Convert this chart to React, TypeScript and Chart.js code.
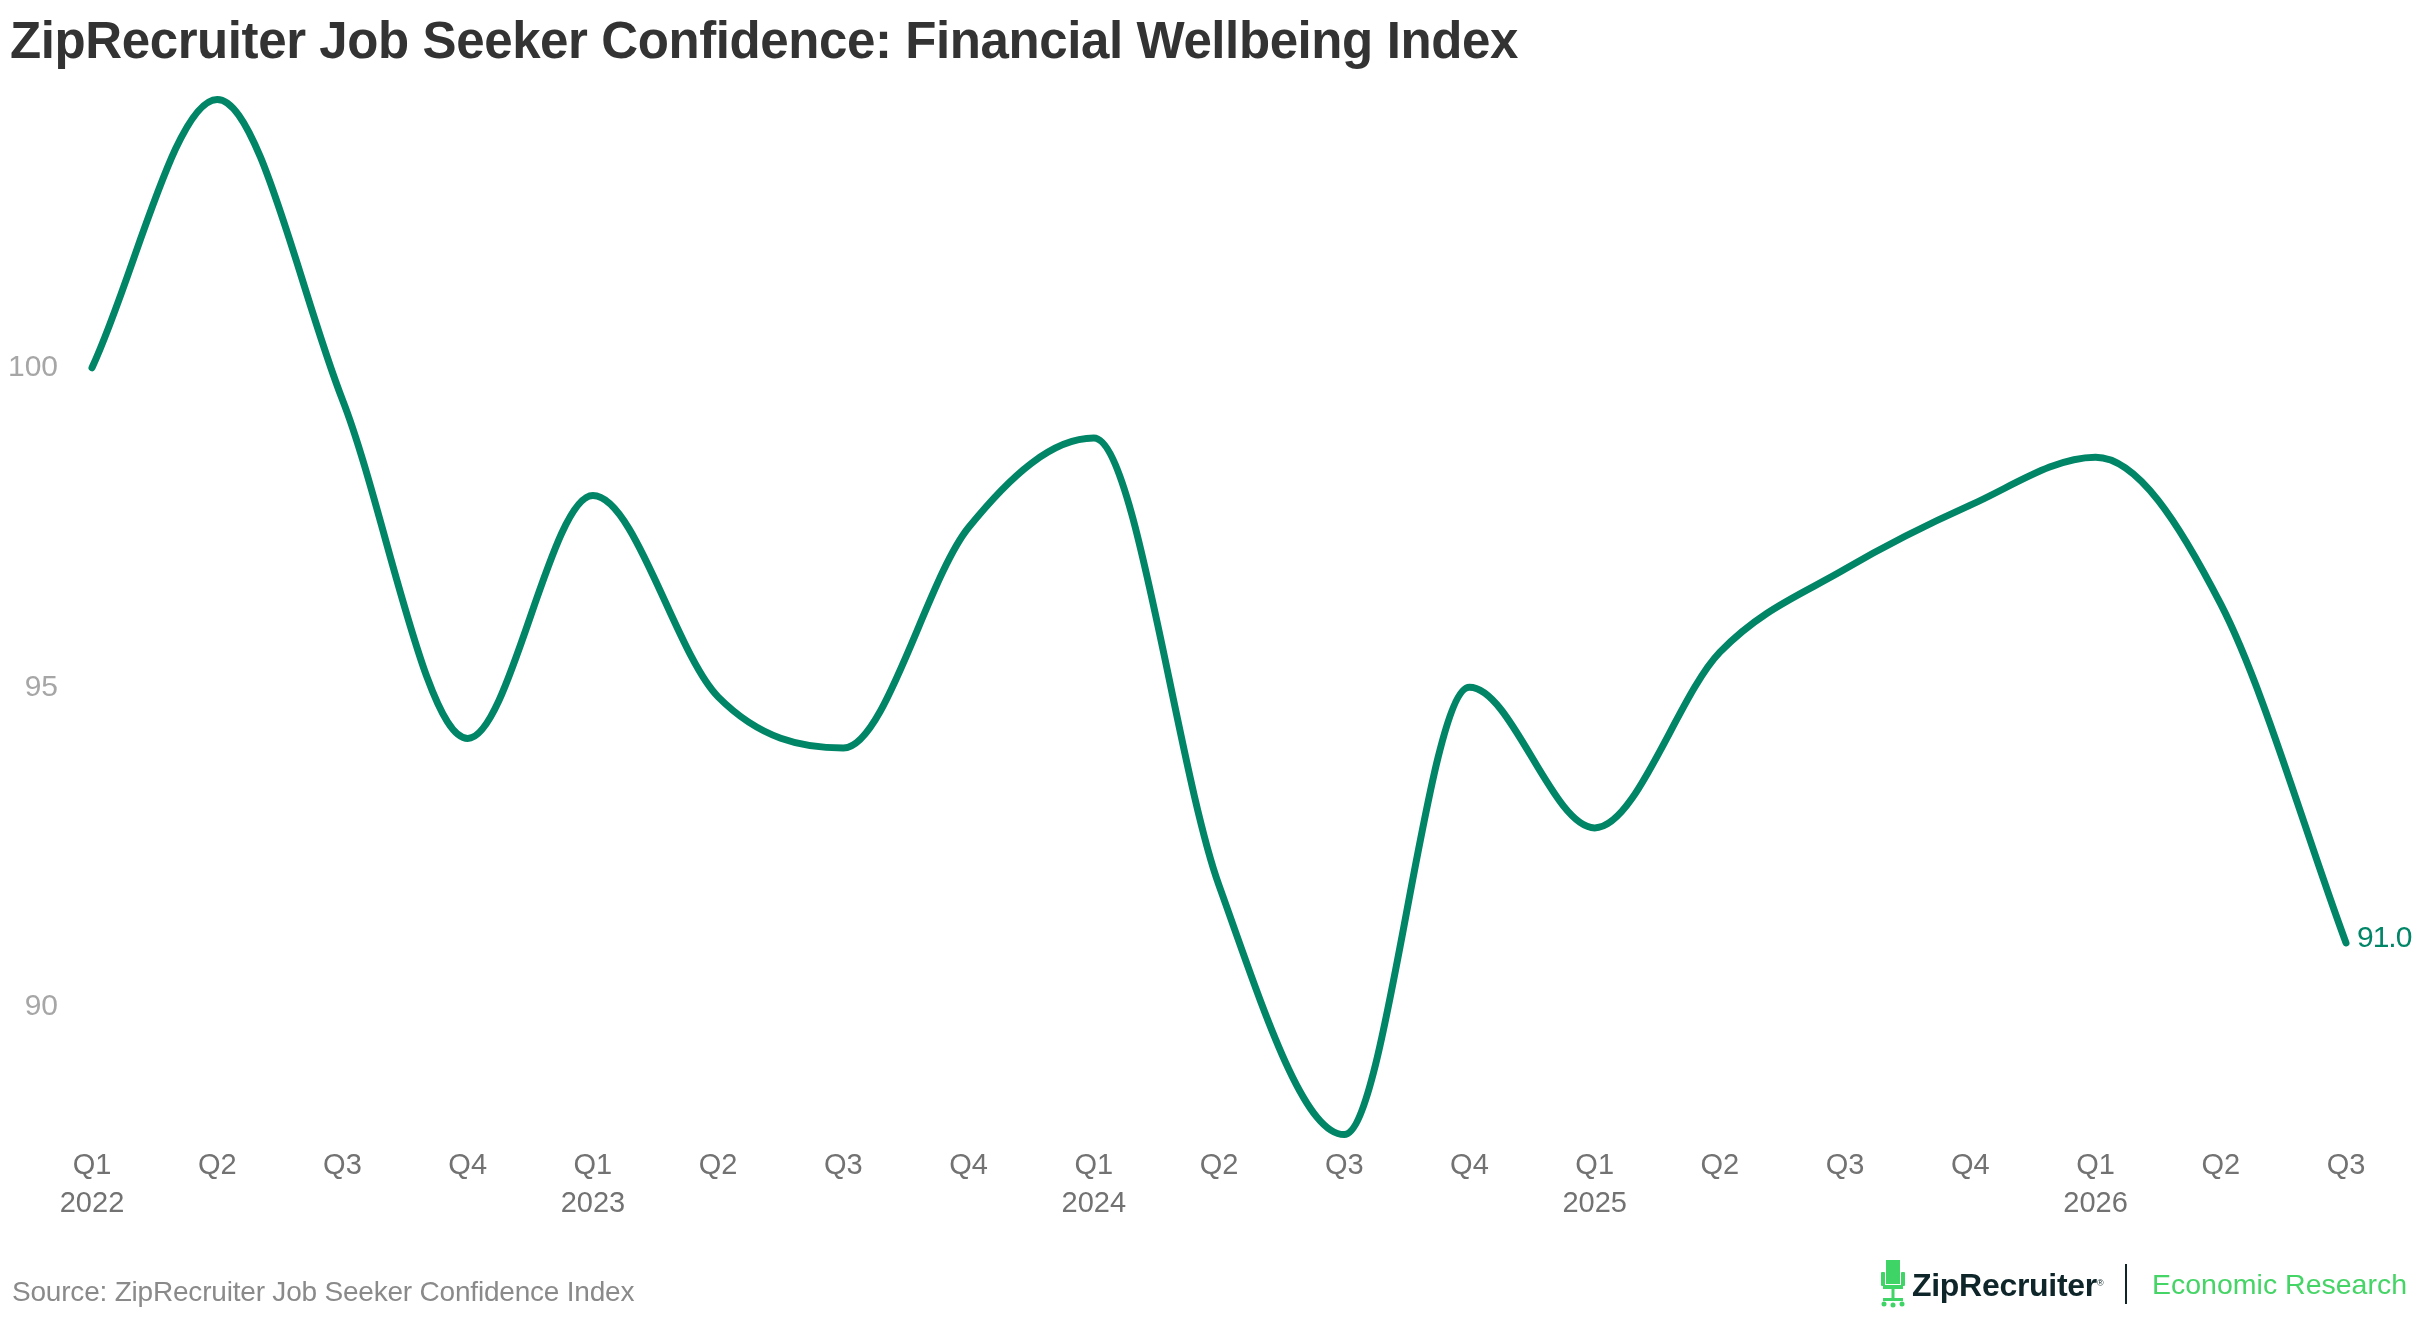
import React, { useEffect, useRef } from "react";
import { Chart, registerables } from "chart.js";

Chart.register(...registerables);

const quarters = ["Q1", "Q2", "Q3", "Q4", "Q1", "Q2", "Q3", "Q4", "Q1", "Q2", "Q3", "Q4", "Q1", "Q2", "Q3", "Q4", "Q1", "Q2", "Q3"];
const years = ["2022", "", "", "", "2023", "", "", "", "2024", "", "", "", "2025", "", "", "", "2026", "", ""];
const values = [100, 104.2, 99.5, 94.2, 98.0, 94.85, 94.05, 97.5, 98.9, 91.9, 88.0, 95.0, 92.8, 95.55, 96.85, 97.85, 98.6, 96.3, 91.0];
const yTicks = [90, 95, 100];
const endLabel = "91.0";

const TITLE = "ZipRecruiter Job Seeker Confidence: Financial Wellbeing Index";
const SOURCE = "Source: ZipRecruiter Job Seeker Confidence Index";
const LINE = "#008567";
const FONT = "'Liberation Sans', Arial, sans-serif";

const endLabelPlugin = {
  id: "endLabel",
  afterDatasetsDraw(chart: any) {
    const meta = chart.getDatasetMeta(0);
    const pt = meta.data[meta.data.length - 1];
    if (!pt) return;
    const ctx = chart.ctx;
    ctx.save();
    ctx.font = `30px ${FONT}`;
    (ctx as any).letterSpacing = "-1px";
    ctx.fillStyle = LINE;
    ctx.textBaseline = "middle";
    ctx.textAlign = "left";
    ctx.fillText(endLabel, pt.x + 11, pt.y - 4);
    ctx.restore();
  },
};

function Chair() {
  const g = "#3fd466";
  return (
    <svg width="28" height="48" viewBox="0 0 28 48" style={{ position: "absolute", left: 1879, top: 1260 }}>
      <rect x="7" y="0" width="14" height="24" fill={g} />
      <rect x="2" y="12" width="4" height="14" rx="1" fill={g} />
      <rect x="22" y="12" width="4" height="14" rx="1" fill={g} />
      <rect x="4" y="25" width="20" height="4" fill={g} />
      <rect x="12.5" y="29" width="3" height="10" fill={g} />
      <rect x="4" y="38" width="20" height="3" fill={g} />
      <circle cx="5" cy="44" r="2.5" fill={g} />
      <circle cx="14" cy="45" r="2.5" fill={g} />
      <circle cx="23" cy="44" r="2.5" fill={g} />
    </svg>
  );
}

export default function App() {
  const ref = useRef<HTMLCanvasElement | null>(null);

  useEffect(() => {
    if (!ref.current) return;
    const labels = quarters.map((q, i) => (years[i] ? [q, years[i]] : q));
    const chart = new Chart(ref.current, {
      type: "line",
      data: {
        labels,
        datasets: [
          {
            data: values,
            borderColor: LINE,
            borderWidth: 7,
            borderCapStyle: "round",
            borderJoinStyle: "round",
            pointRadius: 0,
            pointHoverRadius: 0,
            cubicInterpolationMode: "monotone",
            tension: 0.4,
            fill: false,
            clip: false as any,
          },
        ],
      },
      options: {
        animation: false,
        responsive: false,
        devicePixelRatio: 1,
        events: [],
        layout: { padding: { top: 93, left: 0, right: 74, bottom: 69 } },
        plugins: {
          legend: { display: false },
          title: { display: false },
          tooltip: { enabled: false },
        },
        scales: {
          x: {
            offset: false,
            grid: { display: false, drawTicks: false },
            border: { display: false },
            afterFit: (s: any) => {
              s.height = 110;
            },
            ticks: {
              autoSkip: false,
              maxRotation: 0,
              minRotation: 0,
              padding: 6,
              color: "#727272",
              font: { family: FONT, size: 29, lineHeight: 1.3 },
            },
          },
          y: {
            min: 87.9,
            max: 104.3,
            grid: { display: false, drawTicks: false },
            border: { display: false },
            afterBuildTicks: (s: any) => {
              s.ticks = yTicks.map((v) => ({ value: v }));
            },
            afterFit: (s: any) => {
              s.width = 92;
            },
            ticks: {
              padding: 34,
              color: "#a6a6a6",
              font: { family: FONT, size: 30 },
              callback: (v: any) => String(v),
            },
          },
        },
      },
      plugins: [endLabelPlugin],
    });
    return () => chart.destroy();
  }, []);

  return (
    <div
      style={{
        position: "fixed",
        left: 0,
        top: 0,
        width: 2420,
        height: 1320,
        background: "#ffffff",
        overflow: "hidden",
        fontFamily: FONT,
      }}
    >
      <canvas ref={ref} width={2420} height={1320} style={{ position: "absolute", left: 0, top: 0, width: 2420, height: 1320 }} />
      <div
        style={{
          position: "absolute",
          left: 10,
          top: 15,
          fontSize: 51,
          lineHeight: "51px",
          fontWeight: 700,
          color: "#333333",
          letterSpacing: "-0.4px",
          whiteSpace: "nowrap",
        }}
      >
        {TITLE}
      </div>
      <div
        style={{
          position: "absolute",
          left: 12,
          top: 1278,
          fontSize: 28,
          lineHeight: "28px",
          color: "#8a8a8a",
          letterSpacing: "-0.2px",
          whiteSpace: "nowrap",
        }}
      >
        {SOURCE}
      </div>
      <Chair />
      <div
        style={{
          position: "absolute",
          left: 1912,
          top: 1269,
          fontSize: 32,
          lineHeight: "32px",
          fontWeight: 700,
          color: "#0e2629",
          letterSpacing: "-0.3px",
          whiteSpace: "nowrap",
        }}
      >
        ZipRecruiter<sup style={{ fontSize: 9, fontWeight: 400, verticalAlign: "top", position: "relative", top: -2 }}>®</sup>
      </div>
      <div style={{ position: "absolute", left: 2125, top: 1264, width: 2, height: 40, background: "#0e2629" }} />
      <div
        style={{
          position: "absolute",
          left: 2152,
          top: 1270,
          fontSize: 28.5,
          lineHeight: "28px",
          color: "#45d466",
          whiteSpace: "nowrap",
        }}
      >
        Economic Research
      </div>
    </div>
  );
}
